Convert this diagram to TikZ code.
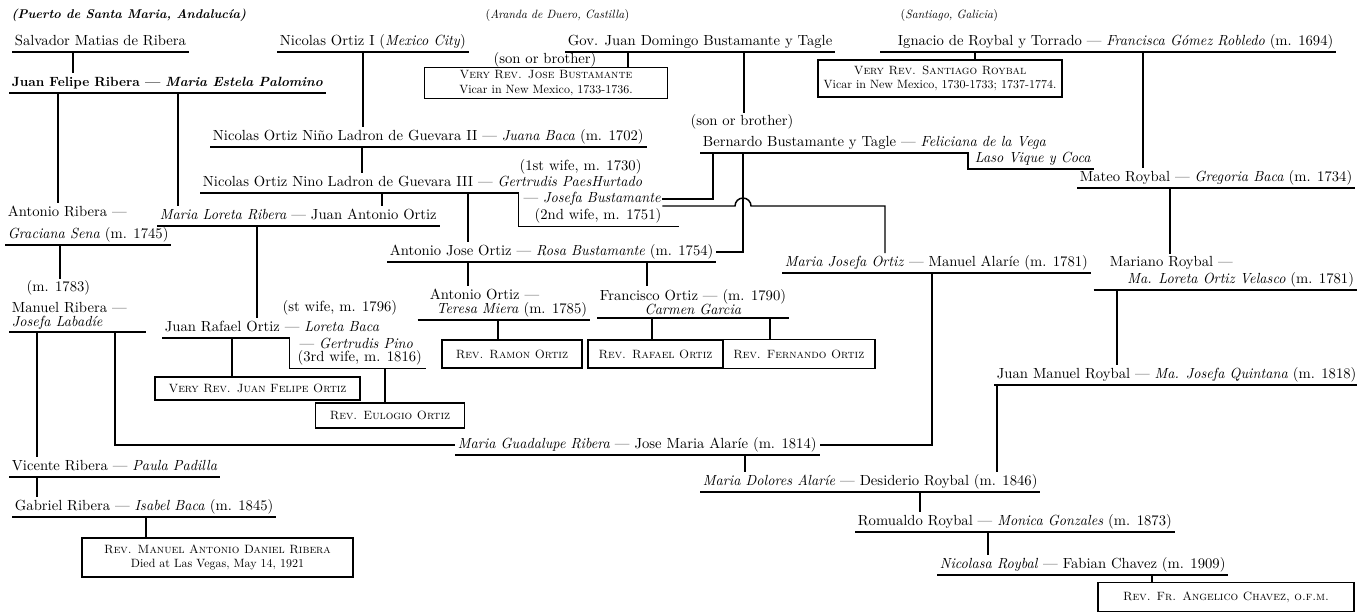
\documentclass[tikz,border=0pt]{standalone}
\usepackage{fontspec}
\setmainfont{lmroman10-regular.otf}[BoldFont=lmroman10-bold.otf, ItalicFont=lmroman10-italic.otf, BoldItalicFont=lmroman10-bolditalic.otf, SmallCapsFont=lmromancaps10-regular.otf, ItalicFeatures={FakeStretch=0.97}]
\usepackage{tikz}
\usetikzlibrary{positioning,calc}
\newcommand{\namefont}{\fontsize{11}{13.5}\selectfont}
\tikzset{%
	couple/.style = {anchor=west, inner xsep=2pt, inner ysep=2pt, text height=0.75em, text depth=0.3em}, % one line pair
	pair/.style   = {anchor=west, inner xsep=2pt, inner ysep=2pt, align=left}, % two line pair
	note/.style   = {inner sep=1pt},
	place/.style  = {inner sep=1pt, anchor=west, font=\small},
	priest/.style = {draw, rectangle, line width=1.1pt, align=center, inner sep=2pt, font=\small},
	link/.style   = {line width=1.1pt},
}

\begin{document}
\begin{tikzpicture}[x=0.75pt,y=-0.75pt,font=\namefont]
	\useasboundingbox (0,0) rectangle (1357,614);

	% places of origin
	\node [place,font=\fontsize{9.5}{11}\selectfont] (pto) at (10,15) {\bfseries\itshape (Puerto de Santa Maria, Andalucía)};
	\node [place] (ara) at (484,15) {(\textit{Aranda de Duero, Castilla})};
	\node [place] (stg) at (899,15) {(\textit{Santiago, Galicia})};

	% first generations
	\node [couple] (sal) at (12,42) {Salvador Matias de Ribera};
	\node [couple] (no1) at (277,42) {Nicolas Ortiz I (\textit{Mexico City})};
	\node [couple] (gov) at (565,42) {Gov. Juan Domingo Bustamante y Tagle};
	\node [couple] (ign) at (895,42) {Ignacio de Roybal y Torrado --- \textit{Francisca Gómez Robledo} (m. 1694)};
	\node [couple,font=\fontsize{10}{12}\selectfont\bfseries] (jfr) at (9,83) {Juan Felipe Ribera --- \textit{Maria Estela Palomino}};
	\node [note,inner sep=0pt] (sob1) at (545,60) {(son or brother)};
	\node [priest,minimum width=182pt,minimum height=22pt] (vjb) at (546,83) {\textsc{Very Rev. Jose Bustamante}\\Vicar in New Mexico, 1733-1736.};
	\node [priest,minimum width=183pt,minimum height=28pt] (vsr) at (940,78.5) {\textsc{Very Rev. Santiago Roybal}\\Vicar in New Mexico, 1730-1733; 1737-1774.};
	\node [note] (sob2) at (742,122) {(son or brother)};
	\node [couple] (no2) at (210,137) {Nicolas Ortiz Niño Ladron de Guevara II --- \textit{Juana Baca} (m. 1702)};
	\node [couple] (ber) at (700,143) {Bernardo Bustamante y Tagle --- \textit{Feliciana de la Vega}};
	\node [couple] (lvc) at (972,159) {\textit{Laso Vique y Coca}};
	\node [note,anchor=west] (wf1) at (518,167) {(1st wife, m. 1730)};
	\node [couple] (no3) at (200,183) {Nicolas Ortiz Nino Ladron de Guevara III --- \textit{Gertrudis PaesHurtado}};
	\node [note,anchor=west] (jbu) at (522,199) {--- \textit{Josefa Bustamante}};
	\node [note,anchor=west,inner ysep=2pt] (wf2) at (533,216) {(2nd wife, m. 1751)};
	\node [couple] (mat) at (1077,178) {Mateo Roybal --- \textit{Gregoria Baca} (m. 1734)};

	% middle generations
	\node [pair] (ant) at (5,224) {Antonio Ribera ---\\[3pt]\textit{Graciana Sena} (m. 1745)};
	\node [couple] (mlr) at (157,216) {\textit{Maria Loreta Ribera} --- Juan Antonio Ortiz};
	\node [couple] (ajo) at (387,252) {Antonio Jose Ortiz --- \textit{Rosa Bustamante} (m. 1754)};
	\node [couple] (mjo) at (782,263) {\textit{Maria Josefa Ortiz} --- Manuel Alaríe (m. 1781)};
	\node [pair] (mar) at (1107,272) {Mariano Roybal ---\\[-1pt]\hspace*{13pt}\textit{Ma. Loreta Ortiz Velasco} (m. 1781)};
	\node [note,anchor=west] (m83) at (25,288) {(m. 1783)};
	\node [pair] (aor) at (427,303) {Antonio Ortiz ---\\[-3pt]\hspace*{5pt}\textit{Teresa Miera} (m. 1785)};
	\node [pair,align=center] (fra) at (597,302) {Francisco Ortiz --- (m. 1790)\\[-2.5pt]\textit{Carmen Garcia}};
	\node [pair] (mri) at (9,316) {Manuel Ribera ---\\[-3.5pt]\textit{Josefa Labadíe}};
	\node [note,anchor=west] (wst) at (281,308) {(st wife, m. 1796)};
	\node [couple] (jro) at (162,328) {Juan Rafael Ortiz --- \textit{Loreta Baca}};
	\node [note,anchor=west] (gpi) at (298,343) {--- \textit{Gertrudis Pino}};
	\node [note,anchor=west,inner ysep=2pt] (wf3) at (296,358) {(3rd wife, m. 1816)};
	\node [priest,minimum width=105pt,minimum height=21pt] (rro) at (512,354) {\textsc{Rev. Ramon Ortiz}};
	\node [priest,minimum width=101pt,minimum height=21pt] (rra) at (655.5,354) {\textsc{Rev. Rafael Ortiz}};
	\node [priest,minimum width=114pt,minimum height=22pt] (rfe) [right=-1.1pt of rra] {\textsc{Rev. Fernando Ortiz}};
	\node [couple] (jmr) at (994,375) {Juan Manuel Roybal --- \textit{Ma. Josefa Quintana} (m. 1818)};
	\node [priest,minimum width=154pt,minimum height=17pt] (vjf) at (257.5,388.5) {\textsc{Very Rev. Juan Felipe Ortiz}};
	\node [priest,minimum width=112pt,minimum height=19pt] (reu) at (390,415.5) {\textsc{Rev. Eulogio Ortiz}};

	% last generations
	\node [couple] (mgr) at (455,445) {\textit{Maria Guadalupe Ribera} --- Jose Maria Alaríe (m. 1814)};
	\node [couple] (vri) at (9,467) {Vicente Ribera --- \textit{Paula Padilla}};
	\node [couple] (mda) at (700,482) {\textit{Maria Dolores Alaríe} --- Desiderio Roybal (m. 1846)};
	\node [couple] (gri) at (12,507) {Gabriel Ribera --- \textit{Isabel Baca} (m. 1845)};
	\node [couple] (rom) at (855,522) {Romualdo Roybal --- \textit{Monica Gonzales} (m. 1873)};
	\node [priest,minimum width=203pt,minimum height=29pt] (rmr) at (217.5,557.5) {\textsc{Rev. Manuel Antonio Daniel Ribera}\\Died at Las Vegas, May 14, 1921};
	\node [couple] (nic) at (937,565) {\textit{Nicolasa Roybal} --- Fabian Chavez (m. 1909)};
	\node [priest,minimum width=192pt,minimum height=22pt] (rac) at (1226,597) {\textsc{Rev. Fr. Angelico Chavez, o.f.m.}};
	\coordinate (hop) at (735,206);

	% underlines
	\draw [link] (sal.south west) -- (sal.south east);
	\draw [link] (no1.south west) -- (no1.south east);
	\draw [link] (gov.south west) -- (gov.south east);
	\draw [link] ([xshift=-11pt]ign.south west) -- (ign.south east);
	\draw [link] (jfr.south west) -- (jfr.south east);
	\draw [link] (no2.south west) -- (no2.south east);
	\draw [link] (ber.south west) -| ([xshift=-3pt]lvc.south west) -- (lvc.south east);
	\draw [link] (no3.south west) -| ([xshift=-11pt]wf2.south west) -- ([xshift=12pt]wf2.south east);
	\draw [link] (mat.south west) -- (mat.south east);
	\draw [link] (ant.south west) -- (ant.south east);
	\draw [link] (mlr.south west) -- (mlr.south east);
	\draw [link] (ajo.south west) -- (ajo.south east);
	\draw [link] (mjo.south west) -- (mjo.south east);
	\draw [link] ([xshift=-10pt]mar.south west) -- (mar.south east);
	\draw [link] ([xshift=-7pt]aor.south west) -- (aor.south east);
	\draw [link] (fra.south west) -- (fra.south east);
	\draw [link] (mri.south west) -- ([xshift=12pt]mri.south east);
	\draw [link] (jro.south west) -| ([xshift=-5pt]wf3.south west) -- ([xshift=2pt]wf3.south east);
	\draw [link] (jmr.south west) -- (jmr.south east);
	\draw [link] (mgr.south west) -- (mgr.south east);
	\draw [link] (vri.south west) -- (vri.south east);
	\draw [link] (mda.south west) -- (mda.south east);
	\draw [link] (gri.south west) -- (gri.south east);
	\draw [link] (rom.south west) -- (rom.south east);
	\draw [link] (nic.south west) -- (nic.south east);

	% descent
	\draw [link] (73,0 |- sal.south) -- (73,0 |- jfr.north);
	\draw [link] (363,0 |- no1.south) -- (363,0 |- no2.north);
	\draw [link] (628,0 |- gov.south) -- (628,0 |- vjb.north);
	\draw [link] (744,0 |- gov.south) -- (744,0 |- sob2.north);
	\draw [link] (975,0 |- ign.south) -- (975,0 |- vsr.north);
	\draw [link] (1143,0 |- ign.south) -- (1143,0 |- mat.north);
	\draw [link] (58,0 |- jfr.south) -- (58,0 |- ant.north);
	\draw [link] (178,0 |- jfr.south) -- (178,0 |- mlr.north);
	\draw [link] (362,0 |- no2.south) -- (362,0 |- no3.north);
	\draw [link] (382,0 |- no3.south) -- (382,0 |- mlr.north);
	\draw [link] (468,0 |- no3.south) -- (468,0 |- ajo.north);
	\draw [link] (jbu.east) -| (713,0 |- ber.south);
	\draw [link] (743,0 |- ber.south) |- (ajo.east);
	\draw [link] (jbu.east |- hop) -- (hop) arc[start angle=180,end angle=0,radius=6pt] -| (885,0 |- mjo.north);
	\draw [link] (1170,0 |- mat.south) -- (1170,0 |- mar.north);
	\draw [link] (60,0 |- ant.south) -- (60,0 |- m83.north);
	\draw [link] (257,0 |- mlr.south) -- (257,0 |- jro.north);
	\draw [link] (468,0 |- ajo.south) -- (468,0 |- aor.north);
	\draw [link] (647,0 |- ajo.south) -- (647,0 |- fra.north);
	\draw [link] (498,0 |- aor.south) -- (498,0 |- rro.north);
	\draw [link] (652,0 |- fra.south) -- (652,0 |- rra.north);
	\draw [link] (770,0 |- fra.south) -- (770,0 |- rfe.north);
	\draw [link] (932,0 |- mjo.south) |- (mgr.east);
	\draw [link] (115,0 |- mri.south) |- (mgr.west);
	\draw [link] (37,0 |- mri.south) -- (37,0 |- vri.north);
	\draw [link] (232,0 |- jro.south) -- (232,0 |- vjf.north);
	\draw [link] (385,0 |- wf3.south) -- (385,0 |- reu.north);
	\draw [link] (1117,0 |- mar.south) -- (1117,0 |- jmr.north);
	\draw [link] (997,0 |- jmr.south) -- (997,0 |- mda.north);
	\draw [link] (745,0 |- mgr.south) -- (745,0 |- mda.north);
	\draw [link] (920,0 |- mda.south) -- (920,0 |- rom.north);
	\draw [link] (988,0 |- rom.south) -- (988,0 |- nic.north);
	\draw [link] (1152,0 |- nic.south) -- (1152,0 |- rac.north);
	\draw [link] (37,0 |- vri.south) -- (37,0 |- gri.north);
	\draw [link] (146,0 |- gri.south) -- (146,0 |- rmr.north);
\end{tikzpicture}
\end{document}
